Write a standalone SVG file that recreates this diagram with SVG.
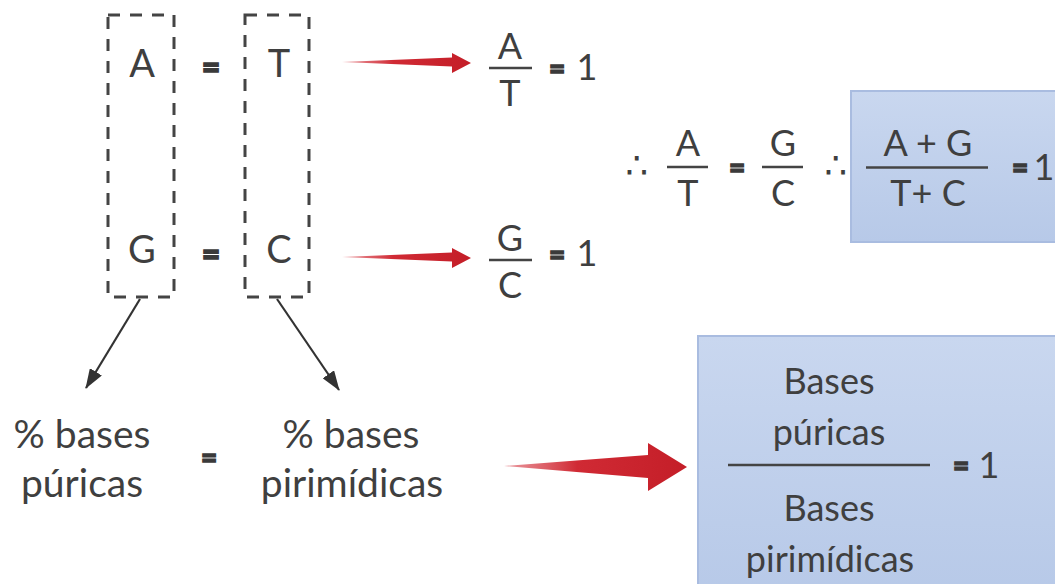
<svg xmlns="http://www.w3.org/2000/svg" width="1055" height="584" viewBox="0 0 1055 584">
<style>
.t{font-family:Lato,"Liberation Sans",sans-serif;fill:#3f3f3f;text-anchor:middle}
.eq{font-family:Lato,"Liberation Sans",sans-serif;font-weight:900;fill:#3a3a3a;stroke:#3a3a3a;stroke-width:1.4;text-anchor:middle}
.th{font-family:"DejaVu Sans",sans-serif;fill:#3f3f3f;text-anchor:middle}
.dash{fill:none;stroke:#444;stroke-width:3;stroke-dasharray:12 10}
.bar{stroke:#444;stroke-width:2.5}
.blk{stroke:#333;stroke-width:2.2;fill:none}
.box{fill:url(#bg);stroke:#a9bce0;stroke-width:2}
</style>
<defs>
<linearGradient id="bg" x1="0" y1="0" x2="0" y2="1">
<stop offset="0" stop-color="#c9d7ef"/>
<stop offset="1" stop-color="#b7c9e8"/>
</linearGradient>
<linearGradient id="rg" x1="0" y1="0" x2="1" y2="0">
<stop offset="0" stop-color="#e06a72" stop-opacity="0.7"/>
<stop offset="0.4" stop-color="#d02a34"/>
<stop offset="1" stop-color="#c41e28"/>
</linearGradient>
<marker id="ah2" viewBox="0 0 20 14" refX="19" refY="7" markerWidth="20" markerHeight="14" markerUnits="userSpaceOnUse" orient="auto">
<path d="M0,0 L20,7 L0,14 z" fill="#333"/>
</marker>
</defs>
<rect width="1055" height="584" fill="#fff"/>

<g id="pairs">
<rect class="dash" x="108" y="15" width="66" height="282"/>
<rect class="dash" x="245" y="15" width="64" height="282"/>
<text class="t" x="142" y="77" font-size="38">A</text>
<text class="eq" x="211" y="78" font-size="32">=</text>
<text class="t" x="279" y="77" font-size="38">T</text>
<text class="t" x="142" y="263" font-size="38">G</text>
<text class="eq" x="211" y="265" font-size="32">=</text>
<text class="t" x="279" y="263" font-size="38">C</text>
</g>

<g id="connectors">
<path d="M342,62 L452,57.5 L452,53 L471,63 L452,73 L452,66.5 Z" fill="url(#rg)"/>
<path d="M342,257 L452,252.5 L452,248 L471,258 L452,268 L452,261.5 Z" fill="url(#rg)"/>
<path d="M504,466 L648,455 L648,443 L687,467 L648,491 L648,478 Z" fill="url(#rg)"/>
<line class="blk" x1="140" y1="299" x2="86" y2="388" marker-end="url(#ah2)"/>
<line class="blk" x1="277" y1="299" x2="339" y2="390" marker-end="url(#ah2)"/>
</g>

<g id="frac-at">
<text class="t" x="510" y="59" font-size="36">A</text>
<line class="bar" x1="489" y1="68" x2="532" y2="68"/>
<text class="t" x="510" y="106" font-size="36">T</text>
<text class="eq" x="557" y="79" font-size="28">=</text>
<text class="t" x="587" y="80" font-size="36">1</text>
</g>

<g id="frac-gc">
<text class="t" x="510" y="251" font-size="36">G</text>
<line class="bar" x1="489" y1="260" x2="532" y2="260"/>
<text class="t" x="510" y="298" font-size="36">C</text>
<text class="eq" x="557" y="265" font-size="28">=</text>
<text class="t" x="587" y="266" font-size="36">1</text>
</g>

<g id="middle">
<text class="th" x="637" y="178" font-size="36">∴</text>
<text class="t" x="688" y="156" font-size="36">A</text>
<line class="bar" x1="667" y1="167" x2="708" y2="167"/>
<text class="t" x="688" y="206" font-size="36">T</text>
<text class="eq" x="737" y="178" font-size="28">=</text>
<text class="t" x="783" y="156" font-size="36">G</text>
<line class="bar" x1="762" y1="167" x2="803" y2="167"/>
<text class="t" x="783" y="206" font-size="36">C</text>
<text class="th" x="836" y="178" font-size="36">∴</text>
</g>

<g id="box-sum">
<rect class="box" x="851" y="91" width="215" height="151"/>
<text class="t" x="928" y="156" font-size="36">A + G</text>
<line class="bar" x1="866" y1="167.5" x2="988" y2="167.5"/>
<text class="t" x="928" y="206" font-size="36">T+ C</text>
<text class="eq" x="1020" y="178" font-size="28">=</text>
<text class="t" x="1044" y="180" font-size="36">1</text>
</g>

<g id="purines">
<text class="t" x="82" y="448" font-size="39">% bases</text>
<text class="t" x="82" y="497" font-size="39">púricas</text>
</g>
<text class="eq" x="209" y="468" font-size="28">=</text>
<g id="pyrimidines">
<text class="t" x="351" y="448" font-size="39">% bases</text>
<text class="t" x="352" y="497" font-size="39">pirimídicas</text>
</g>

<g id="box-ratio">
<rect class="box" x="698" y="336" width="370" height="260"/>
<text class="t" x="829" y="394" font-size="36">Bases</text>
<text class="t" x="829" y="445" font-size="36">púricas</text>
<line class="bar" x1="728" y1="465" x2="930" y2="465"/>
<text class="t" x="829" y="521" font-size="36">Bases</text>
<text class="t" x="830" y="572" font-size="36">pirimídicas</text>
<text class="eq" x="961" y="476" font-size="28">=</text>
<text class="t" x="989" y="478" font-size="36">1</text>
</g>
</svg>
